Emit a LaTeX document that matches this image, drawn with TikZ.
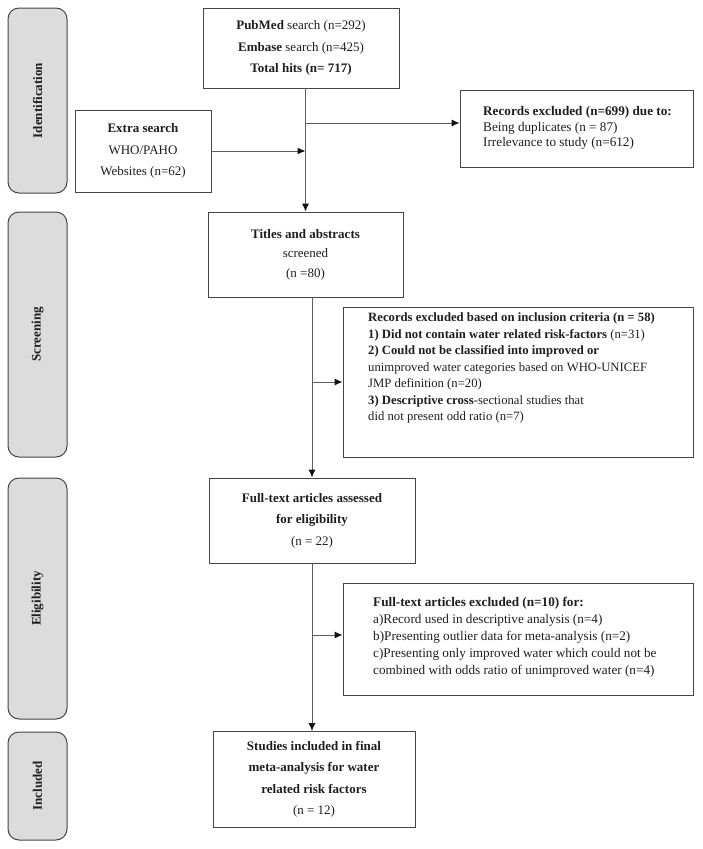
\documentclass[tikz,border=0pt]{standalone}
\usepackage{fontspec}
\setmainfont{Liberation Serif}
\usetikzlibrary{arrows.meta}
\definecolor{sidefill}{HTML}{DCDCDC}
\definecolor{edgec}{HTML}{454545}
\definecolor{connc}{HTML}{5E5E5E}
\definecolor{tipc}{HTML}{111111}
\definecolor{txtc}{HTML}{1E1E1E}
\begin{document}
\begin{tikzpicture}[x=1pt,y=-1pt,
  side/.style={draw=edgec, line width=1pt, fill=sidefill, rounded corners=11pt, inner sep=0pt,
    rotate=90, text=txtc, font=\fontsize{13}{15}\selectfont\bfseries},
  box/.style={draw=edgec, line width=0.9pt, inner sep=0pt, align=center, text=txtc},
  big/.style={font=\fontsize{13}{21.5}\selectfont},
  mid/.style={font=\fontsize{13}{19.5}\selectfont},
  lbl/.style={anchor=west, align=left, inner sep=0pt, text=txtc, font=\fontsize{12.7}{16.5}\selectfont},
  conn/.style={draw=connc, line width=1pt},
  arr/.style={conn, -{Latex[length=8pt,width=7pt,color=tipc]}},
]
\useasboundingbox (0,0) rectangle (702,849);

% phase labels
\node[side, minimum width=185pt, minimum height=59pt] (sid) at (37.5,100.5) {Identification};
\node[side, minimum width=245pt, minimum height=59pt] (sscr) at (37.5,334.5) {Screening};
\node[side, minimum width=241pt, minimum height=59pt] (seli) at (37.5,598.5) {Eligibility};
\node[side, minimum width=108pt, minimum height=59pt] (sinc) at (37.5,786) {Included};

% main boxes
\node[box, big, minimum width=196pt, minimum height=80pt] (search) at (301,48)
  {\textbf{PubMed} search (n=292)\\ \textbf{Embase} search (n=425)\\ \textbf{Total hits (n= 717)}};
\node[box, big, minimum width=136pt, minimum height=82pt] (extra) at (143,151)
  {\textbf{Extra search}\\ WHO/PAHO\\ Websites (n=62)};
\node[box, minimum width=233pt, minimum height=77pt] (rec1) at (576.5,128.5) {};
\node[box, mid, minimum width=195pt, minimum height=85pt] (titles) at (305.5,254.5)
  {\textbf{Titles and abstracts}\\ screened\\ (n =80)};
\node[box, minimum width=350pt, minimum height=150pt] (rec2) at (518,382) {};
\node[box, big, minimum width=206pt, minimum height=85pt] (full) at (312,520.5)
  {\textbf{Full-text articles assessed}\\ \textbf{for eligibility}\\ (n = 22)};
\node[box, minimum width=350pt, minimum height=112pt] (rec3) at (518,639) {};
\node[box, big, minimum width=202pt, minimum height=96pt] (studies) at (314,779.5)
  {\textbf{Studies included in final}\\ \textbf{meta-analysis for water}\\ \textbf{related risk factors}\\ (n = 12)};

% texts of exclusion boxes
\node[lbl, font=\fontsize{13.2}{15.7}\selectfont] (t1) at (483,128)
  {\textbf{Records excluded (n=699) due to:}\\ Being duplicates (n = 87)\\ Irrelevance to study (n=612)};
\node[lbl] (t2) at (368,368)
  {\textbf{Records excluded based on inclusion criteria (n = 58)}\\
   \textbf{1) Did not contain water related risk-factors} (n=31)\\
   \textbf{2) Could not be classified into improved or}\\
   unimproved water categories based on WHO-UNICEF\\
   JMP definition (n=20)\\
   \textbf{3) Descriptive cross}-sectional studies that\\
   did not present odd ratio (n=7)};
\node[lbl, font=\fontsize{13.2}{17}\selectfont] (t3) at (373,637)
  {\textbf{Full-text articles excluded (n=10) for:}\\
   a)Record used in descriptive analysis (n=4)\\
   b)Presenting outlier data for meta-analysis (n=2)\\
   c)Presenting only improved water which could not be\\
   combined with odds ratio of unimproved water (n=4)};

% connectors
\coordinate (j1) at (305.5,123);
\coordinate (j3) at (312,635);
\draw[arr] (search.south -| titles.north) -- (titles.north);
\draw[arr] (extra.east) -- (extra.east -| titles.north);
\draw[arr] (j1) -- (j1 -| rec1.west);
\draw[arr] (titles.south -| full.north) -- (full.north);
\draw[arr] (rec2.west -| full.north) -- (rec2.west);
\draw[arr] (full.south) -- (full.south |- studies.north);
\draw[arr] (j3) -- (j3 -| rec3.west);
\end{tikzpicture}
\end{document}
